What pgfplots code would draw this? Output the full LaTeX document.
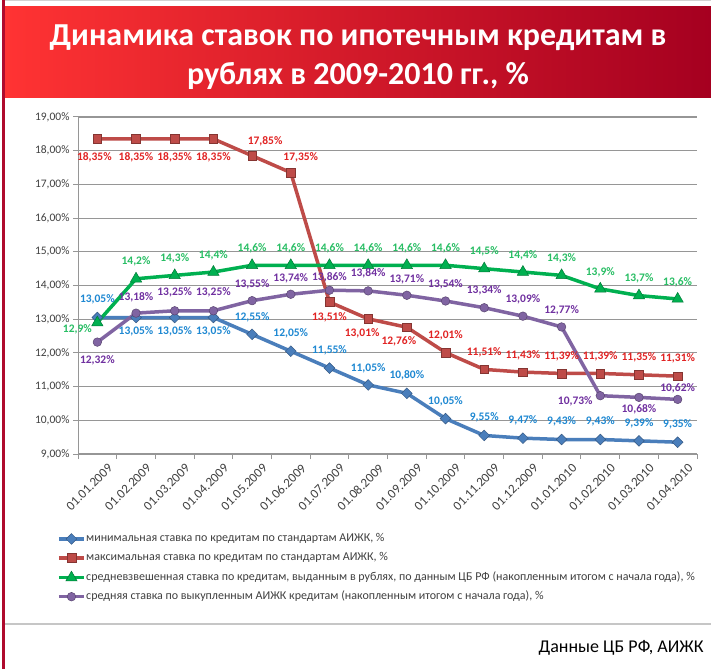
\documentclass[border=0pt]{standalone}
\usepackage{fontspec}
\setmainfont{Carlito}
\usepackage{pgfplots}
\pgfplotsset{compat=1.18}
\usepackage{pgfplotstable}

\definecolor{cBlue}{RGB}{74,126,187}
\definecolor{cRed}{RGB}{190,75,72}
\definecolor{cGreen}{RGB}{0,176,80}
\definecolor{cPurple}{RGB}{128,100,162}
\definecolor{lBlue}{RGB}{30,136,210}
\definecolor{lRed}{RGB}{225,35,35}
\definecolor{lGreen}{RGB}{40,190,100}
\definecolor{lPurple}{RGB}{112,48,160}
\definecolor{bandL}{RGB}{255,51,51}
\definecolor{bandR}{RGB}{165,0,32}
\definecolor{borderc}{RGB}{175,10,45}
\definecolor{txt}{RGB}{64,64,64}
\definecolor{gridc}{RGB}{150,150,150}

\pgfplotstableread{
x y dx dy
0 13.05 0 18
1 13.05 0 -14
2 13.05 0 -14
3 13.05 0 -14
4 12.55 0 17
5 12.05 0 18
6 11.55 0 18
7 11.05 0 17
8 10.80 0 18
9 10.05 0 17
10 9.55 0 18
11 9.47 0 18
12 9.43 0 18
13 9.43 0 18
14 9.39 0 18
15 9.35 0 18
}\tblMin

\pgfplotstableread{
x y dx dy
0 18.35 -3 -18
1 18.35 0 -18
2 18.35 0 -18
3 18.35 0 -18
4 17.85 13 14
5 17.35 10 15
6 13.51 0 -15
7 13.01 -6 -14
8 12.76 -8 -14
9 12.01 0 17
10 11.51 0 17
11 11.43 0 17
12 11.39 0 17
13 11.39 0 17
14 11.35 0 17
15 11.31 0 18
}\tblMax

\pgfplotstableread{
x y dx dy
0 12.9 -20 -7
1 14.2 0 17
2 14.3 0 17
3 14.4 0 17
4 14.6 0 17
5 14.6 0 17
6 14.6 0 17
7 14.6 0 17
8 14.6 0 17
9 14.6 0 17
10 14.5 0 17
11 14.4 0 17
12 14.3 0 17
13 13.9 0 17
14 13.7 0 17
15 13.6 0 17
}\tblCB

\pgfplotstableread{
x y dx dy
0 12.32 0 -18
1 13.18 0 16
2 13.25 0 18
3 13.25 0 18
4 13.55 0 16
5 13.74 0 16
6 13.86 0 13
7 13.84 0 18
8 13.71 0 16
9 13.54 0 17
10 13.34 0 17
11 13.09 0 17
12 12.77 0 17
13 10.73 -25 -6
14 10.68 0 -12
15 10.62 0 11
}\tblAvg

\pgfplotsset{
  lbl/.style n args={2}{draw=none, mark=none, forget plot, point meta=y,
    visualization depends on={\thisrow{dx}\as\dx},
    visualization depends on={\thisrow{dy}\as\dy},
    nodes near coords={\pgfmathprintnumber[fixed,fixed zerofill,precision=#2,use comma,assume math mode=true]{\pgfplotspointmeta}\%},
    nodes near coords style={anchor=center, inner sep=0pt, xshift=\dx pt, yshift=\dy pt, text=#1, font=\fontsize{11.5}{13}\selectfont\bfseries}},
}

\begin{document}
\begin{tikzpicture}[x=1pt,y=1pt]
\path[use as bounding box] (0,0) rectangle (711,669);
\fill[white] (0,0) rectangle (711,669);
\shade[left color=bandL,right color=bandR] (4.5,571) rectangle (711,662);
\fill[borderc] (2,0) rectangle (4.5,669);
\fill[gray!35] (4.5,667.5) rectangle (711,669);
\node[white, font=\fontsize{32}{36}\selectfont\bfseries] at (358,631) {Динамика ставок по ипотечным кредитам в};
\node[white, font=\fontsize{32}{36}\selectfont\bfseries] at (358,593) {рублях в 2009-2010 гг., \%};
\fill[gray!45] (4.5,44) rectangle (711,46.5);
\node[anchor=east, font=\fontsize{18}{20}\selectfont] at (707,21) {Данные ЦБ РФ, АИЖК};

\begin{axis}[at={(78pt,215pt)}, anchor=south west, scale only axis,
  width=619pt, height=337pt,
  xmin=-0.5, xmax=15.5, ymin=9, ymax=19,
  axis x line*=bottom, axis y line*=left,
  axis line style={gridc, line width=1pt},
  ytick={9,10,...,19}, ymajorgrids,
  minor ytick={9,10,...,19},
  major grid style={gridc, line width=1.1pt},
  minor grid style={draw=none},
  xtick={0,1,...,15},
  xticklabels={01.01.2009,01.02.2009,01.03.2009,01.04.2009,01.05.2009,01.06.2009,01.07.2009,01.08.2009,01.09.2009,01.10.2009,01.11.2009,01.12.2009,01.01.2010,01.02.2010,01.03.2010,01.04.2010},
  minor xtick={-0.5,0.5,...,15.5},
  tick align=outside, major tick length=0pt, minor tick length=5pt,
  tick style={gridc, line width=1pt},
  xticklabel style={font=\fontsize{13}{15}\selectfont, text=txt, rotate=45, anchor=north east, xshift=4pt, yshift=-10pt},
  yticklabel style={font=\fontsize{11.5}{13}\selectfont, text=txt, xshift=-5pt},
  yticklabel={\pgfmathprintnumber[fixed,fixed zerofill,precision=2,use comma,assume math mode=true]{\tick}\%},
  clip=false,
  legend style={at={(axis description cs:-0.0339,-0.2344)}, anchor=north west, draw=none, fill=none,
    font=\fontsize{12}{14}\selectfont, text=txt, inner sep=0pt, row sep=7.5pt,
    nodes={inner sep=0.5pt, text height=8pt, text depth=2.5pt}},
  legend cell align=left,
  legend image code/.code={\draw[mark repeat=2,mark phase=2] plot coordinates {(0pt,0pt) (12.5pt,0pt) (25pt,0pt)};},
]
\addplot[cBlue, line width=3.5pt, mark=square*, mark size=3.8pt, mark options={rotate=45, solid, fill=cBlue, draw=cBlue!70!black, line width=0.5pt}] table[x=x,y=y] {\tblMin};
\addlegendentry{минимальная ставка по кредитам по стандартам АИЖК, \%}
\addplot[cRed, line width=3.5pt, mark=square*, mark size=4.3pt, mark options={solid, fill=cRed, draw=cRed!70!black, line width=0.5pt}] table[x=x,y=y] {\tblMax};
\addlegendentry{максимальная ставка по кредитам по стандартам АИЖК, \%}
\addplot[cGreen, line width=3.5pt, mark=triangle*, mark size=6.5pt, mark options={solid, fill=cGreen, draw=cGreen!70!black, line width=0.5pt}] table[x=x,y=y] {\tblCB};
\addlegendentry{средневзвешенная ставка по кредитам, выданным в рублях, по данным ЦБ РФ (накопленным итогом с начала года), \%}
\addplot[cPurple, line width=3.5pt, mark=*, mark size=4.3pt, mark options={solid, fill=cPurple, draw=cPurple!70!black, line width=0.5pt}] table[x=x,y=y] {\tblAvg};
\addlegendentry{средняя ставка по выкупленным АИЖК кредитам (накопленным итогом с начала года), \%}

\addplot[lbl={lBlue}{2}] table[x=x,y=y] {\tblMin};
\addplot[lbl={lRed}{2}] table[x=x,y=y] {\tblMax};
\addplot[lbl={lGreen}{1}] table[x=x,y=y] {\tblCB};
\addplot[lbl={lPurple}{2}] table[x=x,y=y] {\tblAvg};
\end{axis}
\end{tikzpicture}
\end{document}
